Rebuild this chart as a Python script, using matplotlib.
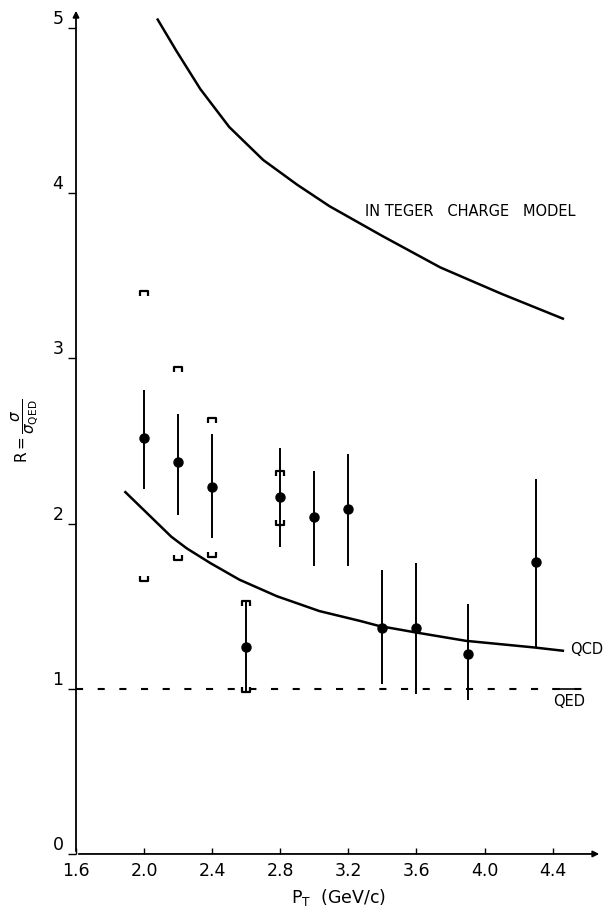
import matplotlib
matplotlib.use('Agg')
import matplotlib.pyplot as plt
from matplotlib.path import Path
import numpy as np

# measured points (pT in GeV/c, R = sigma / sigma_QED)
pt = [2.0, 2.2, 2.4, 2.6, 2.8, 3.0, 3.2, 3.4, 3.6, 3.9, 4.3]
r = [2.52, 2.37, 2.22, 1.25, 2.16, 2.04, 2.09, 1.37, 1.37, 1.21, 1.77]
r_hi = [2.81, 2.66, 2.54, 1.53, 2.46, 2.32, 2.42, 1.72, 1.76, 1.51, 2.27]
r_lo = [2.21, 2.05, 1.91, 0.98, 1.86, 1.74, 1.74, 1.03, 0.97, 0.93, 1.25]

# systematic brackets
sys_pt = [2.0, 2.2, 2.4, 2.6, 2.8]
sys_hi = [3.41, 2.95, 2.64, 1.53, 2.32]
sys_lo = [1.65, 1.78, 1.80, 0.98, 1.99]

# model curves
icm_pt = [2.08, 2.19, 2.33, 2.5, 2.7, 2.9, 3.09, 3.4, 3.74, 4.1, 4.46]
icm_r = [5.05, 4.86, 4.63, 4.40, 4.20, 4.05, 3.92, 3.74, 3.55, 3.39, 3.24]
qcd_pt = [1.89, 1.98, 2.06, 2.16, 2.25, 2.39, 2.56, 2.78, 3.03, 3.27, 3.38, 3.60, 3.89, 4.29, 4.46]
qcd_r = [2.19, 2.10, 2.02, 1.92, 1.85, 1.76, 1.66, 1.56, 1.47, 1.41, 1.38, 1.34, 1.29, 1.25, 1.23]
qed_pt = [1.6, 4.63]
qed_r = [1.0, 1.0]

xticks = [1.6, 2.0, 2.4, 2.8, 3.2, 3.6, 4.0, 4.4]
yticks = [0, 1, 2, 3, 4, 5]

narrow = ['Liberation Sans Narrow', 'DejaVu Sans']

fig = plt.figure(figsize=(6.07, 9.22), dpi=100)
ax = fig.add_axes([0.1252, 0.0738, 0.8666, 0.9175])
ax.set_xlim(1.6, 4.69)
ax.set_ylim(0, 5.12)
for s in ax.spines.values():
    s.set_visible(False)

# axes with arrows
ax.annotate('', xy=(4.69, 0), xytext=(1.6, 0), annotation_clip=False,
            arrowprops=dict(arrowstyle='-|>', color='black', lw=1.3, mutation_scale=9))
ax.annotate('', xy=(1.6, 5.12), xytext=(1.6, 0), annotation_clip=False,
            arrowprops=dict(arrowstyle='-|>', color='black', lw=1.3, mutation_scale=9))

# curves
ax.plot(icm_pt, icm_r, color='black', lw=1.8, solid_joinstyle='round')
ax.plot(qcd_pt, qcd_r, color='black', lw=1.8, solid_joinstyle='round')
ax.plot(qed_pt, qed_r, color='black', lw=1.5, linestyle=(0, (3.4, 7)))

# data with error bars
ax.errorbar(pt, r, yerr=[np.array(r) - np.array(r_lo), np.array(r_hi) - np.array(r)],
            fmt='o', color='black', ms=6.5, elinewidth=1.4, capsize=0, zorder=3)

top_br = Path([(-1, -1.2), (-1, 0), (1, 0), (1, -1.2)],
              [Path.MOVETO, Path.LINETO, Path.LINETO, Path.LINETO])
bot_br = Path([(-1, 1.2), (-1, 0), (1, 0), (1, 1.2)],
              [Path.MOVETO, Path.LINETO, Path.LINETO, Path.LINETO])
ax.plot(sys_pt, sys_hi, linestyle='none', marker=top_br, ms=6.5, mew=1.6,
        mec='black', mfc='none')
ax.plot(sys_pt, sys_lo, linestyle='none', marker=bot_br, ms=6.5, mew=1.6,
        mec='black', mfc='none')

# labels on the plot
ax.text(3.30, 3.89, 'IN TEGER   CHARGE   MODEL', fontsize=10.5, family=narrow,
        va='center', ha='left')
ax.text(4.50, 1.24, 'QCD', fontsize=10.5, family=narrow, va='center', ha='left')
ax.text(4.40, 0.92, 'QED', fontsize=10.5, family=narrow, va='center', ha='left')
ax.plot([4.40, 4.56], [1.0, 1.0], color='black', lw=1.2)

ax.set_xticks(xticks)
ax.set_xticklabels(['%.1f' % v for v in xticks])
ax.set_yticks(yticks)
ax.set_yticklabels([str(v) for v in yticks])
ax.tick_params(axis='x', direction='in', length=4, width=1, pad=6, labelsize=12.5)
ax.tick_params(axis='y', direction='out', length=6, width=1, pad=3, labelsize=12.5)
for lab in ax.get_yticklabels():
    lab.set_va('bottom')

ax.set_xlabel(r'P$_\mathrm{T}$  (GeV/c)', fontsize=12.5, labelpad=5)
ax.set_ylabel(r'$\mathrm{R=}\dfrac{\sigma}{\sigma_{\mathrm{QED}}}$', fontsize=11, labelpad=8)

fig.savefig('out.png', dpi=100)
